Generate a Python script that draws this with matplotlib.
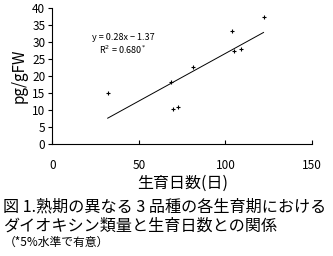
import matplotlib
matplotlib.use("Agg")
from matplotlib import pyplot as plt
import numpy as np

plt.rcParams['font.family'] = ['Noto Sans CJK JP', 'DejaVu Sans']

days = [32, 68.8, 70, 72.7, 81, 104, 105, 109, 122]
dioxin = [15.1, 18.2, 10.3, 11.0, 22.5, 33.2, 27.4, 27.9, 37.3]
slope = 0.28
intercept = -1.37
xticks = [0, 50, 100, 150]
yticks = [0, 5, 10, 15, 20, 25, 30, 35, 40]

fig = plt.figure(figsize=(3.33, 2.56), dpi=100)
ax = fig.add_axes([0.157, 0.4375, 0.78, 0.5315])

ax.plot(days, dioxin, 'k+', markersize=3, markeredgewidth=0.8)
fx = np.array([min(days), max(days)])
ax.plot(fx, slope * fx + intercept, 'k-', linewidth=0.7)

ax.set_xlim(0, 150)
ax.set_ylim(0, 40)
ax.set_xticks(xticks)
ax.set_yticks(yticks)
ax.spines['top'].set_visible(False)
ax.spines['right'].set_visible(False)
ax.tick_params(axis='x', direction='in', length=3, labelsize=8.5, pad=11)
ax.tick_params(axis='y', direction='out', length=3, labelsize=8.5, pad=2)

ax.set_xlabel("生育日数(日)", fontsize=11.5, labelpad=2)
ax.set_ylabel("pg/gFW", fontsize=11, labelpad=3)

ax.text(41, 31.2, "y = 0.28x − 1.37", fontsize=6.5, ha='center', va='center')
ax.text(41, 27.6, "R$^2$ = 0.680$^*$", fontsize=6.5, ha='center', va='center')

fig.text(0.01, 0.19, "図 1.熟期の異なる 3 品種の各生育期における", fontsize=11.6, va='center')
fig.text(0.01, 0.117, "ダイオキシン類量と生育日数との関係", fontsize=11.6, va='center')
fig.text(0.01, 0.055, "（*5%水準で有意）", fontsize=8.5, va='center')

fig.savefig("out.png", dpi=100)
